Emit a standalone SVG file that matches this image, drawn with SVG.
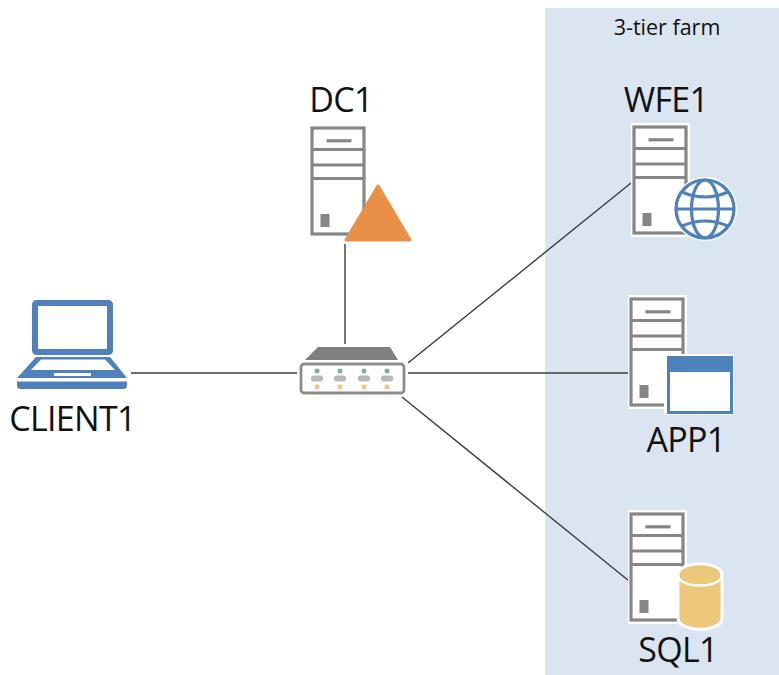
<svg xmlns="http://www.w3.org/2000/svg" width="779" height="675" viewBox="0 0 779 675">
<style>
text{font-family:"Open Sans","Noto Sans","Liberation Sans",sans-serif;fill:#111}
.lbl{font-size:34px;letter-spacing:-0.7px}
.conn{stroke:#3c3c3c;stroke-width:1.4;fill:none}
.srv{fill:#fff;stroke:#868686;stroke-width:3.200}
.halo{fill:#fff}
.blue{fill:#4f81bd}
</style>
<defs>
<g id="server">
<rect x="-1" y="-1" width="52" height="106" class="srv"/>
<path d="M-1 20.500H51M-1 36H51M-1 49.500H51" class="srv"/>
<rect x="13.500" y="10.200" width="25" height="3.200" fill="#868686"/>
<rect x="7.500" y="85" width="9" height="13" fill="#868686"/>
</g>
</defs>
<rect id="farm-band" x="545" y="8" width="234" height="667" fill="#dbe5f1"/>
<g id="connectors">
<line class="conn" x1="131" y1="373" x2="297" y2="373"/>
<line class="conn" x1="345" y1="244" x2="345" y2="344"/>
<line class="conn" x1="408" y1="363" x2="631" y2="183"/>
<line class="conn" x1="408" y1="373" x2="628" y2="373"/>
<line class="conn" x1="402" y1="397" x2="634" y2="585"/>
</g>
<g id="farm-label"><text x="667" y="35" text-anchor="middle" font-size="21.500">3-tier farm</text></g>
<g id="DC1">
<text class="lbl" x="341" y="112" text-anchor="middle">DC1</text>
<use href="#server" x="313" y="129"/>
<path d="M378 186L410 240H346Z" fill="#e98f47" stroke="#e98f47" stroke-width="3" stroke-linejoin="round"/>
</g>
<g id="WFE1">
<text class="lbl" x="666" y="112" text-anchor="middle">WFE1</text>
<rect x="631" y="123" width="59" height="114" class="halo"/>
<use href="#server" x="635" y="128"/>
<circle cx="705" cy="209" r="32" class="halo"/>
<g fill="none" stroke="#4f81bd" stroke-width="3.200">
<circle cx="705" cy="209" r="29"/>
<ellipse cx="705" cy="209" rx="13.500" ry="29"/>
<path d="M676 209H734M682 192Q705 202 728 192M682 226Q705 216 728 226"/>
</g>
</g>
<g id="APP1">
<text class="lbl" x="686" y="452" text-anchor="middle">APP1</text>
<rect x="628" y="295" width="59" height="114" class="halo"/>
<use href="#server" x="632" y="300"/>
<rect x="664" y="354" width="70" height="61" class="halo"/>
<rect x="668.500" y="357.500" width="63" height="55" fill="#fff" stroke="#4f81bd" stroke-width="3"/>
<rect x="668" y="357" width="64" height="15" class="blue"/>
</g>
<g id="SQL1">
<text class="lbl" x="678" y="662" text-anchor="middle">SQL1</text>
<rect x="628" y="510" width="59" height="114" class="halo"/>
<use href="#server" x="632" y="515"/>
<path d="M678 575C678 560 722 560 722 575V618C722 633 678 633 678 618Z" fill="#edc77a" stroke="#fff" stroke-width="3"/>
<path d="M678 575C678 589 722 589 722 575" fill="none" stroke="#fff" stroke-width="2.500"/>
</g>
<g id="switch">
<path d="M305 360L318 347H390L398 360Z" fill="#7f7f7f"/>
<rect x="301" y="364" width="103" height="29" rx="3" fill="#fff" stroke="#8c8c8c" stroke-width="2.800"/>
<g fill="#7fb09c"><circle cx="317" cy="371" r="2.500"/><circle cx="340" cy="371" r="2.500"/><circle cx="364" cy="371" r="2.500"/><circle cx="387" cy="371" r="2.500"/></g>
<g fill="#b8b8b8"><rect x="311" y="375.500" width="12" height="6" rx="2.500"/><rect x="334" y="375.500" width="12" height="6" rx="2.500"/><rect x="358" y="375.500" width="12" height="6" rx="2.500"/><rect x="381" y="375.500" width="12" height="6" rx="2.500"/></g>
<g fill="#efc77d"><circle cx="317" cy="387" r="2.500"/><circle cx="340" cy="387" r="2.500"/><circle cx="364" cy="387" r="2.500"/><circle cx="387" cy="387" r="2.500"/></g>
</g>
<g id="CLIENT1">
<rect x="35" y="303" width="75" height="49" rx="1.500" fill="#fff" stroke="#4f81bd" stroke-width="6"/>
<path d="M36 357H110L127 378H17Z" class="blue"/>
<path d="M41 359.500H105L115 370H31Z" fill="#fff"/>
<rect x="54" y="373" width="37" height="3" fill="#fff"/>
<path d="M17 381.500H127V385.500Q127 389 123 389H21Q17 389 17 385.500Z" class="blue"/>
<text class="lbl" x="72.500" y="431" text-anchor="middle">CLIENT1</text>
</g>
</svg>
